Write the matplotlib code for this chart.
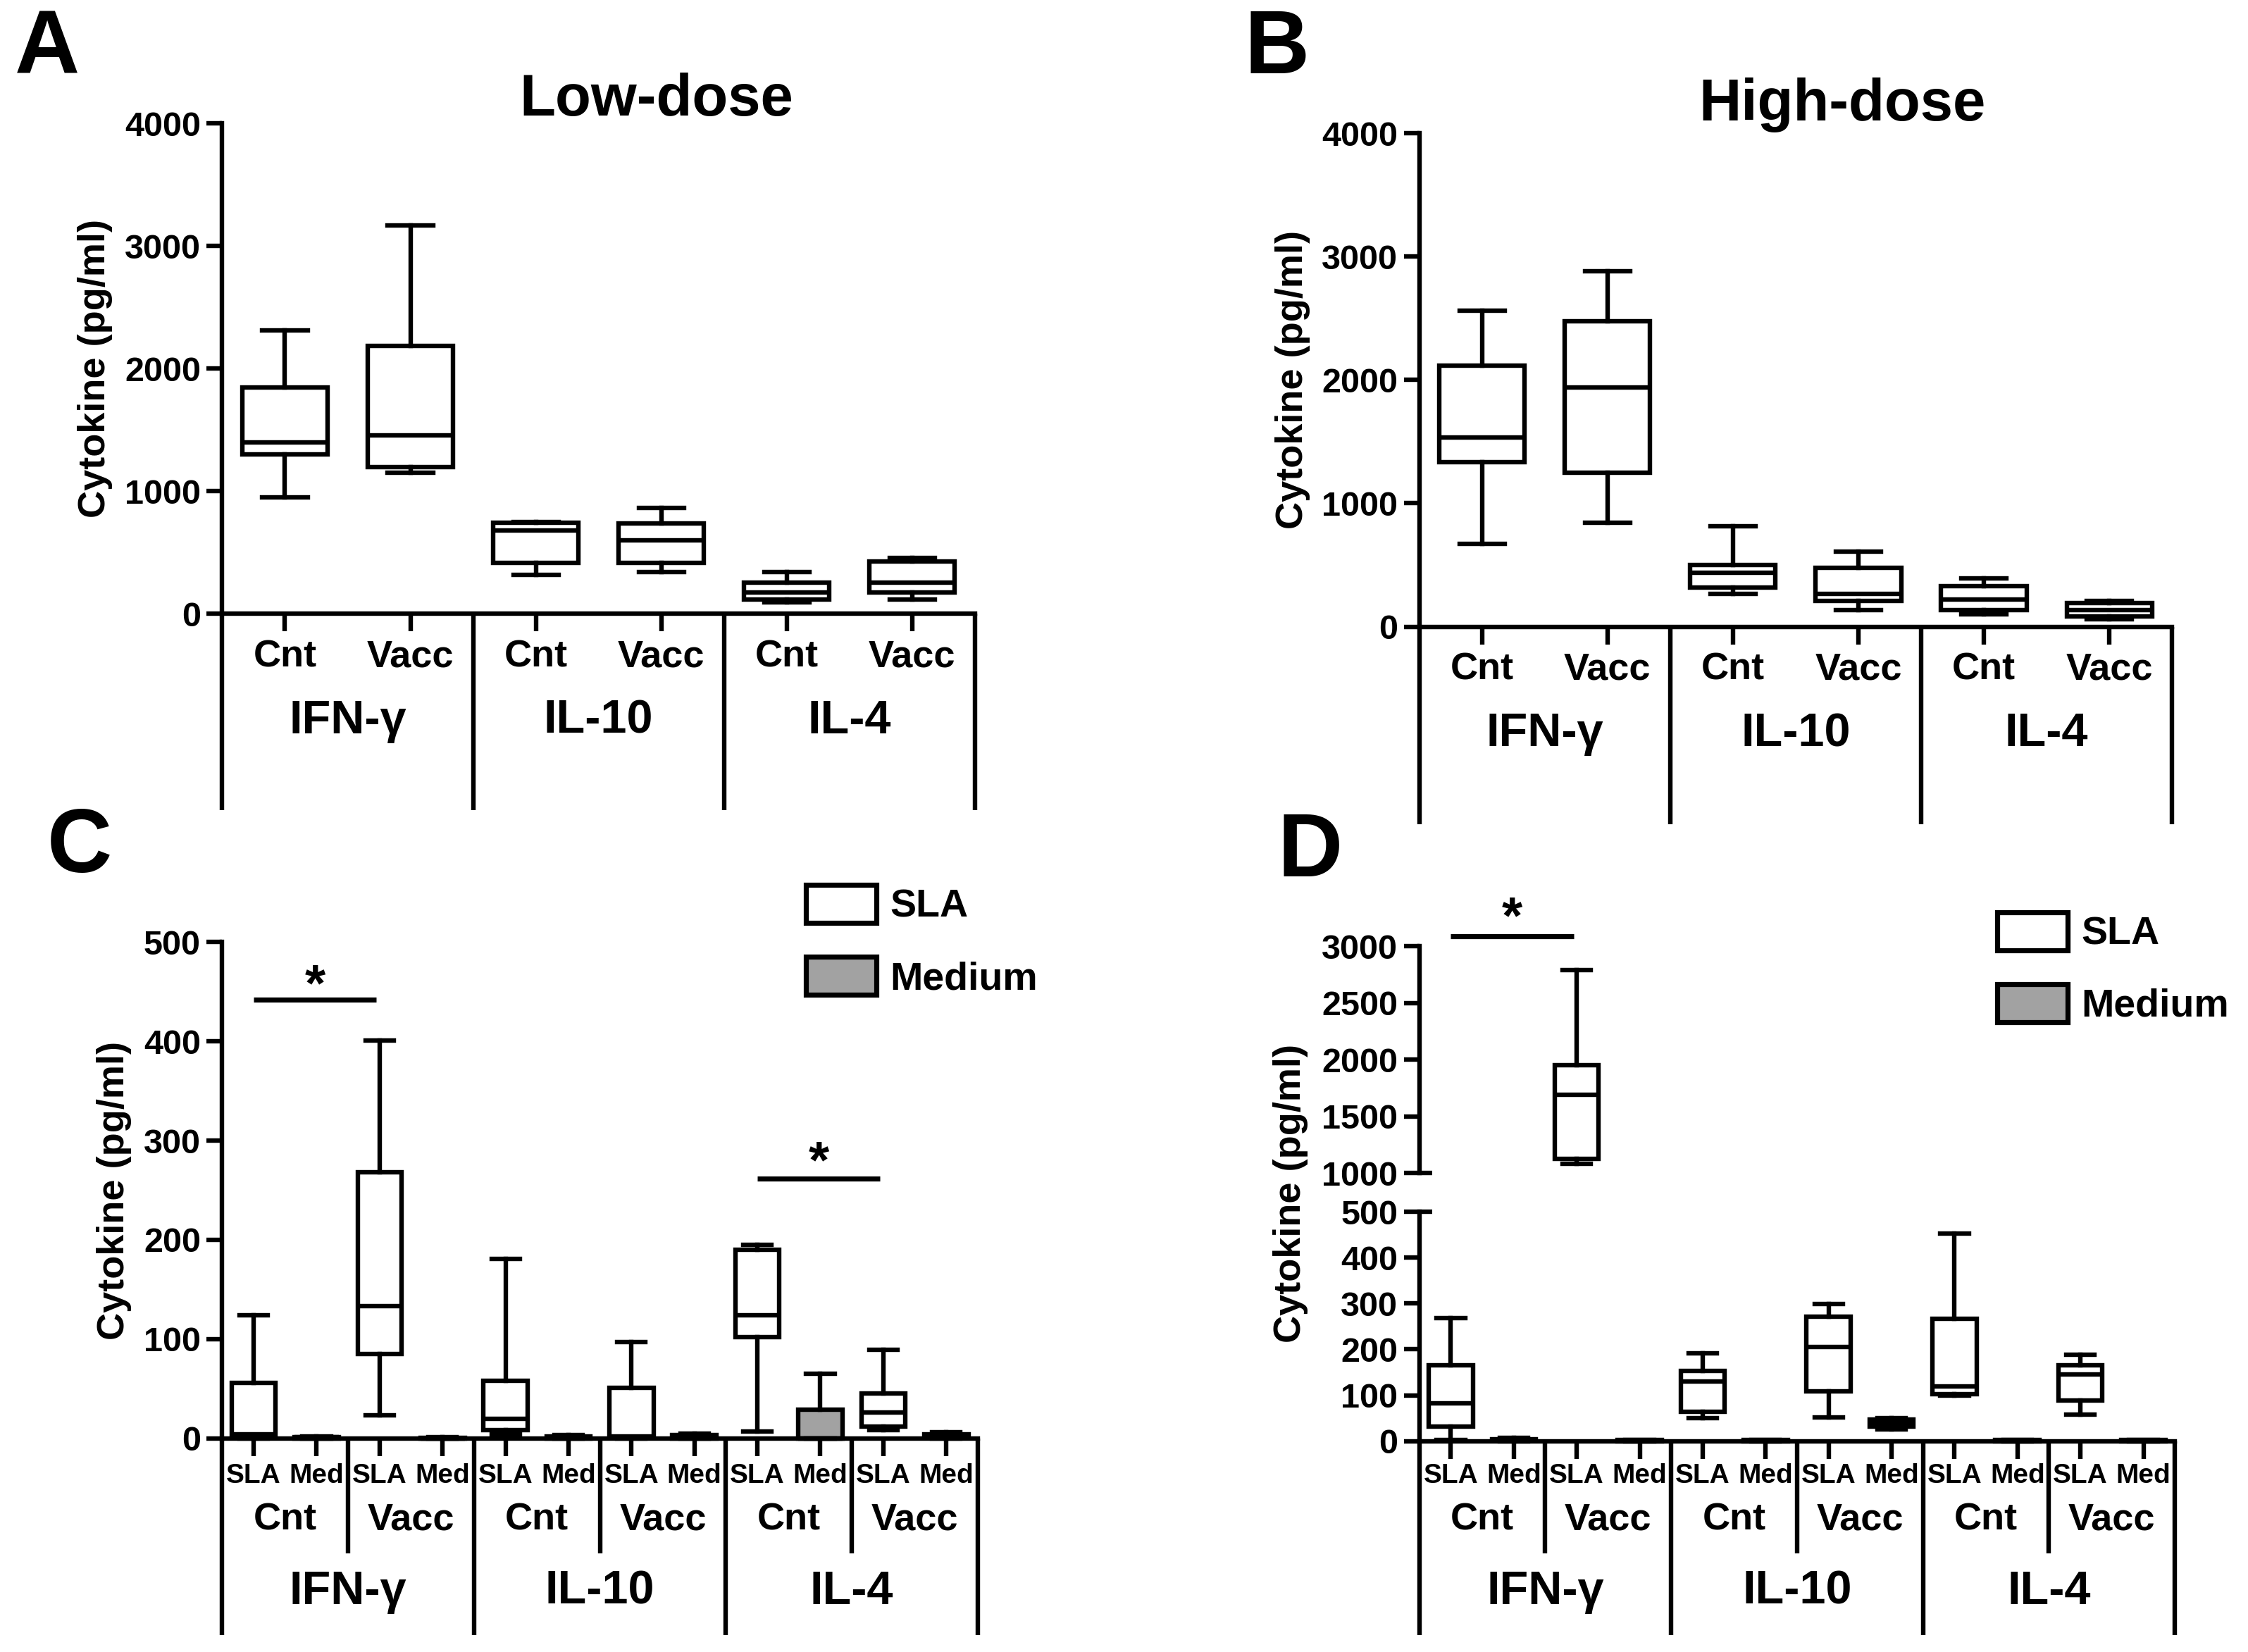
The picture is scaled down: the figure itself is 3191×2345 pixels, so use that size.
import numpy as np
import matplotlib
matplotlib.use('Agg')
import matplotlib.pyplot as plt
from matplotlib import transforms
from matplotlib.patches import Patch

plt.rcParams['font.family'] = ['Liberation Sans', 'DejaVu Sans']
plt.rcParams['font.weight'] = 'bold'

# ---- data ----
cytokines = ['IFN-γ', 'IL-10', 'IL-4']
groups = ['Cnt', 'Vacc']
stims = ['SLA', 'Med']

# panel A: low-dose, order IFN Cnt, IFN Vacc, IL-10 Cnt, IL-10 Vacc, IL-4 Cnt, IL-4 Vacc
low_min = [950, 1150, 320, 342, 94, 115]
low_q1 = [1300, 1198, 415, 415, 115, 171]
low_med = [1400, 1455, 680, 599, 171, 257]
low_q3 = [1848, 2182, 740, 736, 252, 428]
low_max = [2310, 3166, 750, 864, 338, 453]

# panel B: high-dose
high_min = [671, 842, 265, 137, 103, 60]
high_q1 = [1333, 1248, 316, 209, 137, 81]
high_med = [1534, 1940, 440, 265, 222, 137]
high_q3 = [2115, 2479, 500, 479, 329, 192]
high_max = [2560, 2880, 812, 607, 393, 209]

# panel C: low-dose restimulated, order per cytokine: Cnt SLA, Cnt Med, Vacc SLA, Vacc Med
c_min = [0, 0, 23, 0, 4, 0, 0, 0, 7, 0, 8, 0]
c_q1 = [2, 0, 85, 0, 8, 0, 1, 0, 102, 0, 12, 1]
c_med = [4, 1, 133, 0, 20, 1, 2, 2, 124, 0, 26, 3]
c_q3 = [56, 1.5, 268, 0.5, 58, 2, 51, 3, 190, 29, 45, 4]
c_max = [124, 2, 401, 1, 181, 3, 97, 5, 195, 65, 89, 6]

# panel D: high-dose restimulated
d_min = [2, 0, 1084, 0, 50, 0, 52, 26, 100, 0, 58, 0]
d_q1 = [32, 1, 1126, 0, 64, 0, 109, 32, 103, 0, 89, 0]
d_med = [82, 3, 1688, 1, 130, 1, 206, 38, 120, 1, 145, 1]
d_q3 = [166, 5, 1953, 2, 153, 2, 271, 47, 267, 2, 166, 2]
d_max = [269, 8, 2791, 3, 192, 3, 299, 50, 453, 3, 188, 3]

# significance bars: (x from, x to, bar height, star height)
c_sig = [(1, 2.95, 442, 455), (9, 10.95, 262, 277)]
d_sig = [(1, 2.95, 3093, 3240)]

SLA_COLOR = 'white'
MED_COLOR = '#a2a2a2'
LW = 2.3
SPW = 2.3
TICK_FS = 17.5

fig = plt.figure(figsize=(15.955, 11.725), dpi=200, facecolor='white')

# layout grid in the reduced-size reference (1568 x 1152)
W, H = 1568, 1152
def fx(px):
    return px / W
def fy(py):
    return 1 - py / H


def make_stats(mins, q1s, meds, q3s, maxs):
    return [dict(whislo=a, q1=b, med=c, q3=d, whishi=e, fliers=[])
            for a, b, c, d, e in zip(mins, q1s, meds, q3s, maxs)]


def draw_boxes(ax, stats, pos, faces, width, capw):
    bp = ax.bxp(stats, positions=pos, widths=width, capwidths=capw,
                patch_artist=True, showfliers=False, manage_ticks=False,
                boxprops=dict(edgecolor='black', linewidth=LW),
                medianprops=dict(color='black', linewidth=LW),
                whiskerprops=dict(color='black', linewidth=LW),
                capprops=dict(color='black', linewidth=LW))
    for patch, fc in zip(bp['boxes'], faces):
        patch.set_facecolor(fc)
    for key in bp:
        for art in bp[key]:
            art.set_clip_on(False)


def style_axis(ax, xlim, ylim, yticks, xticks):
    ax.set_xlim(*xlim)
    ax.set_ylim(*ylim)
    ax.set_yticks(yticks)
    ax.set_xticks(xticks)
    for s in ['top', 'right']:
        ax.spines[s].set_visible(False)
    for s in ['left', 'bottom']:
        ax.spines[s].set_linewidth(SPW)
    ax.tick_params(axis='y', length=8, width=SPW, labelsize=TICK_FS, pad=3)
    ax.tick_params(axis='x', length=9, width=SPW, labelbottom=False)
    ax.patch.set_alpha(0)


def vline(ax, x, y0, y1):
    tr = transforms.blended_transform_factory(ax.transData, fig.transFigure)
    ax.plot([x, x], [fy(y0), fy(y1)], transform=tr, color='black',
            lw=SPW, clip_on=False, solid_capstyle='butt')


def label(ax, x, py, s, size):
    tr = transforms.blended_transform_factory(ax.transData, fig.transFigure)
    ax.text(x, fy(py), s, transform=tr, ha='center', va='center',
            fontsize=size, fontweight='bold')


def legend(ax, px, py):
    handles = [Patch(facecolor=SLA_COLOR, edgecolor='black', linewidth=2.6, label='SLA'),
               Patch(facecolor=MED_COLOR, edgecolor='black', linewidth=2.6, label='Medium')]
    ax.legend(handles=handles, loc='upper left', bbox_to_anchor=(fx(px), fy(py)),
              bbox_transform=fig.transFigure, frameon=False, fontsize=20,
              handlelength=1.8, handleheight=1.12, labelspacing=0.8,
              handletextpad=0.35, borderpad=0, borderaxespad=0)


def star(ax, x, y):
    ax.text(x, y, '*', ha='center', va='center', fontsize=27, fontweight='bold')


# ---------------- panels A and B ----------------
pos6 = np.arange(1, 7)
two_panel = [
    ('Low-dose', 'A', (155, 680, 86, 428, 565), make_stats(low_min, low_q1, low_med, low_q3, low_max),
     (458, 70), (10, 35)),
    ('High-dose', 'B', (990, 1515, 93, 437, 575), make_stats(high_min, high_q1, high_med, high_q3, high_max),
     (1285, 73), (868, 35)),
]
for title, letter, (l, r, t, b, bot), stats, tpos, lpos in two_panel:
    ax = fig.add_axes([fx(l), fy(b), fx(r) - fx(l), fy(t) - fy(b)])
    draw_boxes(ax, stats, pos6, [SLA_COLOR] * 6, 0.68, 0.36)
    style_axis(ax, (0.5, 6.5), (0, 4000), np.arange(0, 4001, 1000), pos6)
    ax.set_ylabel('Cytokine (pg/ml)', fontsize=19.5, fontweight='bold', labelpad=6)
    for xb in [0.5, 2.5, 4.5, 6.5]:
        vline(ax, xb, b, bot)
    for i, x in enumerate(pos6):
        label(ax, x, b + 30, groups[i % 2], 19.5)
    for k, name in enumerate(cytokines):
        label(ax, 1.5 + 2 * k, b + 75, name, 24)
    fig.text(fx(tpos[0]), fy(tpos[1]), title, ha='center', va='center', fontsize=30, fontweight='bold')
    fig.text(fx(lpos[0]), fy(lpos[1]), letter, ha='left', va='center', fontsize=46, fontweight='bold')

# ---------------- panels C and D ----------------
pos12 = np.arange(1, 13)
faces12 = [SLA_COLOR, MED_COLOR] * 6
sub12 = [stims[i % 2] for i in range(12)]
grp_lab = [groups[i % 2] for i in range(6)]


def restim_table(ax, b):
    for xb in [0.5, 4.5, 8.5, 12.5]:
        vline(ax, xb, b, 1140)
    for xb in [2.5, 6.5, 10.5]:
        vline(ax, xb, b, 1083)
    for x, s in zip(pos12, sub12):
        label(ax, x, 1029, s, 14)
    for j, s in enumerate(grp_lab):
        label(ax, 1.5 + 2 * j, 1060, s, 19.5)
    for k, name in enumerate(cytokines):
        label(ax, 2.5 + 4 * k, 1110, name, 24)


# C
axc = fig.add_axes([fx(155), fy(1003), fx(682) - fx(155), fy(657) - fy(1003)])
draw_boxes(axc, make_stats(c_min, c_q1, c_med, c_q3, c_max), pos12, faces12, 0.7, 0.45)
style_axis(axc, (0.5, 12.5), (0, 500), np.arange(0, 501, 100), pos12)
axc.set_ylabel('Cytokine (pg/ml)', fontsize=19.5, fontweight='bold', labelpad=6)
restim_table(axc, 1003)
for x0, x1, yb, ys in c_sig:
    axc.plot([x0, x1], [yb, yb], color='black', lw=2.6, clip_on=False, solid_capstyle='butt')
    star(axc, (x0 + x1) / 2, ys)
legend(axc, 562, 617)
fig.text(fx(33), fy(592), 'C', ha='left', va='center', fontsize=46, fontweight='bold')

# D (broken axis)
d_stats = make_stats(d_min, d_q1, d_med, d_q3, d_max)
high_mask = np.array(d_max) > 500
axd = fig.add_axes([fx(990), fy(1005), fx(1517) - fx(990), fy(845) - fy(1005)])
axu = fig.add_axes([fx(990), fy(818), fx(1517) - fx(990), fy(660) - fy(818)])
draw_boxes(axd, [s for s, m in zip(d_stats, high_mask) if not m], pos12[~high_mask],
           [f for f, m in zip(faces12, high_mask) if not m], 0.7, 0.45)
draw_boxes(axu, [s for s, m in zip(d_stats, high_mask) if m], pos12[high_mask],
           [f for f, m in zip(faces12, high_mask) if m], 0.7, 0.45)
style_axis(axd, (0.5, 12.5), (0, 500), np.arange(0, 501, 100), pos12)
style_axis(axu, (0.5, 12.5), (1000, 3000), np.arange(1000, 3001, 500), [])
axu.spines['bottom'].set_visible(False)
# end caps of the broken y axis
for a, yv in [(axu, 1000), (axd, 500)]:
    a.plot([0, 0.017], [yv, yv], transform=transforms.blended_transform_factory(a.transAxes, a.transData),
           color='black', lw=SPW, clip_on=False, solid_capstyle='butt')
restim_table(axd, 1005)
for x0, x1, yb, ys in d_sig:
    axu.plot([x0, x1], [yb, yb], color='black', lw=2.6, clip_on=False, solid_capstyle='butt')
    star(axu, (x0 + x1) / 2, ys)
legend(axd, 1393, 636)
fig.text(fx(900), fy(832), 'Cytokine (pg/ml)', rotation=90, ha='center', va='center',
         fontsize=19.5, fontweight='bold')
fig.text(fx(891), fy(595), 'D', ha='left', va='center', fontsize=46, fontweight='bold')

fig.savefig('out.png', dpi=200, facecolor='white')
